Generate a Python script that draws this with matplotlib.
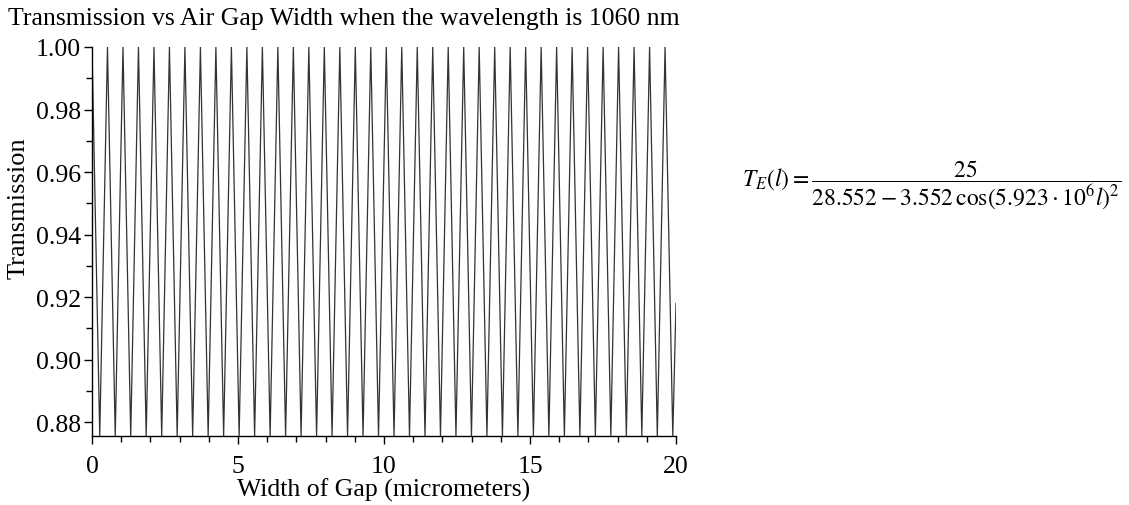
import matplotlib
matplotlib.use('Agg')
import matplotlib.pyplot as plt
from matplotlib.ticker import MultipleLocator, FormatStrFormatter

plt.rcParams['font.family'] = ['Liberation Serif', 'DejaVu Serif']
plt.rcParams['mathtext.fontset'] = 'stix'

# Extrema (gap width in micrometers)
peak_x = [0.000, 0.530, 1.061, 1.591, 2.122, 2.652, 3.182, 3.713, 4.243, 4.774,
          5.304, 5.835, 6.365, 6.895, 7.426, 7.956, 8.487, 9.017, 9.547, 10.078,
          10.608, 11.139, 11.669, 12.199, 12.730, 13.260, 13.791, 14.321, 14.851,
          15.382, 15.912, 16.443, 16.973, 17.504, 18.034, 18.564, 19.095, 19.625]
trough_x = [0.265, 0.796, 1.326, 1.856, 2.387, 2.917, 3.447, 3.978, 4.508, 5.039,
            5.569, 6.100, 6.630, 7.160, 7.691, 8.221, 8.752, 9.282, 9.812, 10.343,
            10.873, 11.404, 11.934, 12.464, 12.995, 13.525, 14.056, 14.586, 15.116,
            15.647, 16.177, 16.708, 17.238, 17.769, 18.299, 18.829, 19.360, 19.890]
peak_T = 1.000
trough_T = 0.8756
end_x, end_T = 20.0, 0.918

# zigzag through the extrema
xs, ys = [], []
for p, t in zip(peak_x, trough_x):
    xs += [p, t]
    ys += [peak_T, trough_T]
xs.append(end_x)
ys.append(end_T)

W, H = 1129, 506
fig = plt.figure(figsize=(W / 100, H / 100), dpi=100)
ax = fig.add_axes([92 / W, (H - 437) / H, (676 - 92) / W, (437 - 48) / H])
ax.plot(xs, ys, color='#333333', lw=0.9)

ax.set_xlim(0, 20)
ax.set_ylim(0.8756, 1.0)
for s in ['top', 'right']:
    ax.spines[s].set_visible(False)
for s in ['left', 'bottom']:
    ax.spines[s].set_linewidth(1.0)

ax.xaxis.set_major_locator(MultipleLocator(5))
ax.xaxis.set_minor_locator(MultipleLocator(1))
ax.yaxis.set_major_locator(MultipleLocator(0.02))
ax.yaxis.set_minor_locator(MultipleLocator(0.01))
ax.yaxis.set_major_formatter(FormatStrFormatter('%.2f'))
ax.tick_params(which='major', length=6, width=1, labelsize=18.5, direction='out')
ax.tick_params(which='minor', length=4, width=1, direction='out')
ax.tick_params(axis='x', pad=8)
ax.tick_params(axis='y', pad=2)

ax.set_xlabel('Width of Gap (micrometers)', fontsize=18.5, labelpad=0)
ax.set_ylabel('Transmission', fontsize=19, va='center')
ax.yaxis.set_label_coords(-(92 - 19) / (676 - 92), (437 - 208) / (437 - 48))

fig.text(344 / W, 1 - 19 / H, 'Transmission vs Air Gap Width when the wavelength is 1060 nm',
         ha='center', va='center', fontsize=18.5)

fig.text(932 / W, 1 - 185 / H,
         r'$T_E(l) = \dfrac{25}{28.552 - 3.552\,\cos(5.923\cdot 10^6 l)^2}$',
         ha='center', va='center', fontsize=17)

fig.savefig('out.png', dpi=100)
